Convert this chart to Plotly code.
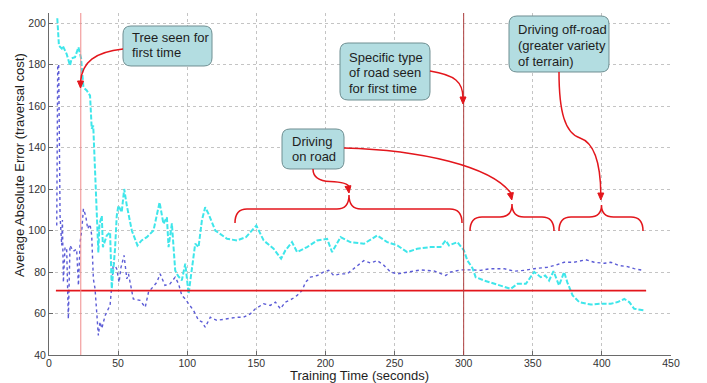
import plotly.graph_objects as go

# ---------------- data ----------------
time_a = [6, 7.2, 9.2, 10, 12.8, 15.2, 16.4, 18.8, 21.3, 23.2, 24.9, 27.3, 29.7, 30.9, 32, 33.8,
          34.5, 35.7, 36.5, 38.2, 39, 41.8, 44.2, 45.4, 47.8, 49, 50.2, 52.6, 54.4, 56.3, 59.9,
          64, 67, 70.8, 75.6, 80, 82.8, 85.3, 86.5, 88.9, 91.3, 93.5, 96.1, 98.6, 101, 103.4,
          105.8, 108.2, 110.6, 113, 115.4, 120.3, 128.8, 136, 142.5, 150, 155.3, 162.5, 167.9,
          171, 175.8, 179.5, 186.7, 194, 201.2, 204.8, 210.9, 218, 227.8, 237.5, 244.7, 252,
          259.2, 266.4, 276, 283.3, 287, 289.4, 295.4, 300.2, 302.7, 306.3, 308.7, 314.7, 322,
          329.2, 334, 339, 345, 351, 355.8, 359, 361.8, 365, 369, 372.7, 375, 378.8, 383.6,
          392, 399, 406.5, 411.4, 416.2, 419.8, 423.4, 430.6]
err_a = [202.3, 189, 187.7, 189, 185, 179.5, 183, 183.5, 188.3, 183, 169, 167.5, 165, 149, 150.6,
         121.7, 107, 89.4, 103, 107, 92, 97.6, 99.2, 72, 91.3, 107, 112, 108.8, 120, 112, 100,
         92.8, 95.2, 96.8, 100, 113.6, 103.2, 106.4, 92, 103.4, 80.7, 78, 76, 84, 69.5, 82.3,
         93.7, 92, 104.8, 111.2, 108, 100, 96, 95.2, 96.8, 102.4, 95.2, 91.2, 86.4,
         90.4, 94.4, 89.6, 92, 95.2, 96, 89.6, 96.8, 94.4, 93.6, 97.6, 94.4, 92.8,
         89.6, 91.2, 92, 92, 95.2, 92.8, 94.4, 90.4, 85.5, 82, 77.5, 75.9, 74.3,
         73, 71.9, 74.3, 74.3, 80, 77.5, 78.3, 75.9, 80.4, 73.5, 80, 75, 68.7, 65.5,
         64.3, 64.7, 64.7, 65.5, 67, 65.5, 62.3, 61.5]

time_b = [5.6, 6.3, 7, 8, 9.2, 9.7, 10.4, 11.6, 12.8, 14, 15.2, 17.6, 20, 21.3, 22.5, 23.7, 24.9,
          26.6, 28, 29.7, 30.9, 32.1, 33.3, 34.5, 35.7, 36.9, 38.2, 40.6, 43, 44.2, 45.4, 46.6,
          49, 50.7, 52, 54.3, 56.3, 57.5, 61, 65.9, 69.6, 72, 78, 80.4, 83.9, 87.5, 91.3, 93.7,
          96.1, 98.6, 101, 104.6, 108.2, 110.6, 113, 116.7, 121.5, 128.8, 136, 140.8, 145.6,
          149.3, 155.3, 160.1, 163.8, 167.4, 171, 175.8, 179.5, 183.1, 185.5, 189.1, 194, 198.8,
          202.4, 206, 210.9, 215.7, 220.5, 224.2, 227.8, 232.6, 237.5, 242.3, 247.1, 252, 261.6,
          268.8, 278.5, 287, 290.6, 297.8, 305, 312.3, 319.6, 329.2, 336.5, 343.7, 351, 360.6,
          367.9, 372.7, 379.9, 388.4, 394.4, 401.7, 406.5, 412.5, 418.5, 423.4, 430.6]
err_b = [102.4, 179.5, 180, 107, 92.8, 105, 75, 92, 91, 57.4, 92.8, 90, 91, 73.5, 94.4, 100, 110.4,
         107, 100.8, 103, 97.6, 76.7, 72, 59, 49.4, 56, 52.8, 59, 62.3, 64, 73.5, 84.7,
         81.5, 75, 82, 88, 76.7, 79.1, 67, 66.3, 63, 70.3, 75, 79.1, 73.5, 74.3, 77.5, 74.3,
         68.7, 67, 64.7, 61.4, 56.7, 56, 53.4, 58.2, 56.7, 57.4, 58.2, 58.2, 59.8,
         62.3, 64.7, 63.9, 65.5, 62.3, 65.5, 67, 68.7, 71.1, 75, 77.5, 78.3, 80,
         80.8, 78.3, 79.1, 79.1, 81.6, 83.2, 85.5, 84.3, 85.5, 83.2, 80, 79.1, 80,
         81, 80.5, 78.3, 80, 81, 81, 80.8, 81.6, 81.6, 80.4, 80.8, 81.6, 82.3,
         83.6, 84.7, 84.7, 85.9, 84.7, 84.2, 84.7, 83.1, 82.6, 81.6, 80.7]

baseline_value = 71
baseline_span = [5, 432]
event_times = [23, 300]

x_ticks = [0, 50, 100, 150, 200, 250, 300, 350, 400, 450]
y_ticks = [40, 60, 80, 100, 120, 140, 160, 180, 200]

# ---------------- layout geometry (pixels) ----------------
L, R, T, B = 49, 671, 13, 355
W, H = 707, 383
PW, PH = R - L, B - T


def px(x):
    return (x - L) / PW


def py(y):
    return (B - y) / PH


def P(x, y):
    return f"{px(x):.5f},{py(y):.5f}"


RED = "#e3161c"
FONT = "Liberation Sans, Arial, sans-serif"

fig = go.Figure()

fig.add_trace(go.Scatter(x=time_b, y=err_b, mode="lines",
                         line=dict(color="#5c5cd6", width=1.4, dash="dot"),
                         showlegend=False, hoverinfo="skip"))
fig.add_trace(go.Scatter(x=time_a, y=err_a, mode="lines",
                         line=dict(color="#3fe6ea", width=2, dash="5px,2px"),
                         showlegend=False, hoverinfo="skip"))
fig.add_trace(go.Scatter(x=baseline_span, y=[baseline_value] * len(baseline_span), mode="lines",
                         line=dict(color=RED, width=1.6),
                         showlegend=False, hoverinfo="skip"))

shapes = []
event_colors = ["#f08a8a", "#b04040"]
for t, c in zip(event_times, event_colors):
    shapes.append(dict(type="line", xref="x", yref="paper", x0=t, x1=t, y0=0, y1=1,
                       line=dict(color=c, width=1), layer="above"))


def rrect(x0, y0, x1, y1, r=8):
    return (f"M {P(x0 + r, y0)} L {P(x1 - r, y0)} Q {P(x1, y0)} {P(x1, y0 + r)} "
            f"L {P(x1, y1 - r)} Q {P(x1, y1)} {P(x1 - r, y1)} L {P(x0 + r, y1)} "
            f"Q {P(x0, y1)} {P(x0, y1 - r)} L {P(x0, y0 + r)} Q {P(x0, y0)} {P(x0 + r, y0)} Z")


def head(tx, ty, ux, uy, length=7, hw=3):
    n = (ux * ux + uy * uy) ** 0.5
    ux, uy = ux / n, uy / n
    bx, by = tx - length * ux, ty - length * uy
    nx, ny = -uy, ux
    return f"M {P(tx, ty)} L {P(bx + hw * nx, by + hw * ny)} L {P(bx - hw * nx, by - hw * ny)} Z"


def brace(x0, x1, xm, yend, yh, ytip, r=12):
    return (f"M {P(x0, yend)} Q {P(x0, yh)} {P(x0 + r, yh)} L {P(xm - r, yh)} "
            f"Q {P(xm, yh)} {P(xm, ytip)} Q {P(xm, yh)} {P(xm + r, yh)} "
            f"L {P(x1 - r, yh)} Q {P(x1, yh)} {P(x1, yend)}")


boxes = [
    ((123, 26, 212, 66), 130, ["Tree seen for", "first time"], [37.7, 52.7]),
    ((340, 43, 430, 100), 347, ["Specific type", "of road seen", "for first time"], [57.3, 72.7, 88.3]),
    ((282, 129, 344, 169), 290, ["Driving", "on road"], [141.7, 156.7]),
    ((509, 16, 609, 72), 515.5, ["Driving off-road", "(greater variety", "of terrain)"], [30, 45.7, 61]),
]

annotations = []
for (x0, y0, x1, y1), tx, lines, ys in boxes:
    shapes.append(dict(type="path", xref="paper", yref="paper", path=rrect(x0, y0, x1, y1),
                       fillcolor="#b3dde1", line=dict(color="#6f8f92", width=1), layer="above"))
    for txt, yy in zip(lines, ys):
        annotations.append(dict(text=txt, xref="paper", yref="paper", x=px(tx), y=py(yy),
                                xanchor="left", yanchor="middle", showarrow=False,
                                font=dict(family=FONT, size=13, color="#1e1e1e")))

curves = [
    "M " + P(123, 49) + " C " + P(95, 52) + " " + P(82, 62) + " " + P(80.5, 82),
    "M " + P(430, 71) + " C " + P(455, 75) + " " + P(463, 82) + " " + P(463, 98),
    "M " + P(313, 169) + " C " + P(313, 177) + " " + P(318, 181) + " " + P(330, 181.5)
    + " C " + P(342, 182) + " " + P(348.5, 184) + " " + P(349, 187),
    "M " + P(344, 148) + " C " + P(420, 150) + " " + P(492, 166) + " " + P(511.5, 194),
    "M " + P(559, 72) + " C " + P(559, 112) + " " + P(565, 133) + " " + P(580, 138)
    + " C " + P(595, 143) + " " + P(600.5, 165) + " " + P(600.8, 194),
]
for c in curves:
    shapes.append(dict(type="path", xref="paper", yref="paper", path=c,
                       line=dict(color=RED, width=1.5), layer="above"))

heads = [head(80.5, 88, 0, 1), head(463, 104, 0, 1), head(349, 193, 0.15, 1),
         head(511.8, 200, 0.2, 1), head(600.8, 200, 0, 1)]
for h in heads:
    shapes.append(dict(type="path", xref="paper", yref="paper", path=h,
                       fillcolor=RED, line=dict(color=RED, width=1), layer="above"))

braces = [brace(235, 462, 349, 223, 209, 195), brace(470, 554, 512, 231, 217, 204),
          brace(559, 643, 601.5, 231, 217, 205)]
for b in braces:
    shapes.append(dict(type="path", xref="paper", yref="paper", path=b,
                       line=dict(color=RED, width=1.5), layer="above"))

annotations.append(dict(text="Training Time (seconds)", xref="paper", yref="paper",
                        x=px(359), y=py(375.5), xanchor="center", yanchor="middle", showarrow=False,
                        font=dict(family=FONT, size=13, color="#1e1e1e")))
annotations.append(dict(text="Average Absolute Error (traversal cost)", xref="paper", yref="paper",
                        x=px(19), y=py(165), xanchor="center", yanchor="middle", showarrow=False,
                        textangle=-90, font=dict(family=FONT, size=13, color="#1e1e1e")))

axis_common = dict(showgrid=True, gridcolor="#c4c4c4", griddash="dot", gridwidth=1,
                   showline=True, linecolor="#6a6a6a", linewidth=1, ticks="inside",
                   ticklen=4, tickcolor="#6a6a6a", zeroline=False,
                   tickfont=dict(family=FONT, size=10.5, color="#333333"))

fig.update_layout(
    width=W, height=H,
    margin=dict(l=L, r=W - R, t=T, b=H - B, pad=0),
    paper_bgcolor="white", plot_bgcolor="white",
    xaxis=dict(range=[0, 450], tickvals=x_ticks, ticktext=[str(v) for v in x_ticks],
               ticklabelstandoff=-2, **axis_common),
    yaxis=dict(range=[40, 40 + PH / 2.075], tickvals=y_ticks, ticktext=[str(v) for v in y_ticks],
               **axis_common),
    shapes=shapes, annotations=annotations, showlegend=False,
)

fig.write_html("out.html", config={"displayModeBar": False},
               post_script="document.body.style.margin='0px';document.body.style.overflow='hidden';")
